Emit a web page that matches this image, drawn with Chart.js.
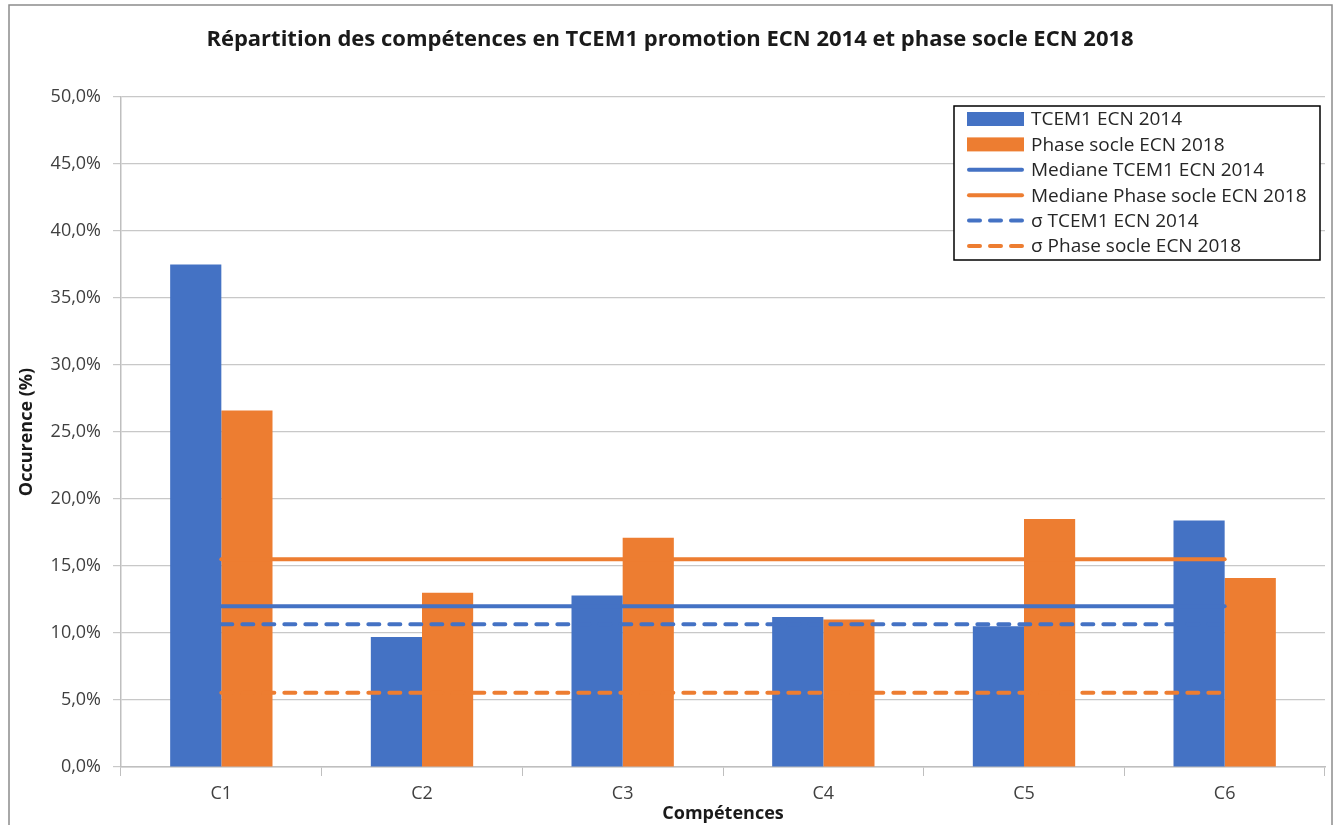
<!DOCTYPE html>
<html>
<head>
<meta charset="utf-8">
<script src="https://cdn.jsdelivr.net/npm/chart.js@4/dist/chart.umd.min.js"></script>
<style>
  html, body { margin: 0; padding: 0; background: #fff; }
  #wrap { width: 1340px; height: 825px; position: relative; }
</style>
</head>
<body>
<div id="wrap"><canvas id="chart" width="1340" height="825"></canvas></div>
<script>
"use strict";

const CATEGORIES = ["C1", "C2", "C3", "C4", "C5", "C6"];
const TCEM1_2014 = [37.5, 9.7, 12.8, 11.2, 10.5, 18.4];
const SOCLE_2018 = [26.6, 13.0, 17.1, 11.0, 18.5, 14.1];
const MEDIAN_TCEM1 = [12.0, 12.0, 12.0, 12.0, 12.0, 12.0];
const MEDIAN_SOCLE = [15.5, 15.5, 15.5, 15.5, 15.5, 15.5];
const SIGMA_TCEM1 = [10.65, 10.65, 10.65, 10.65, 10.65, 10.65];
const SIGMA_SOCLE = [5.55, 5.55, 5.55, 5.55, 5.55, 5.55];
const Y_TICKS = [0, 5, 10, 15, 20, 25, 30, 35, 40, 45, 50];

const BLUE = "#4472C4";
const ORANGE = "#ED7D31";
const FONT = "'Open Sans', 'Noto Sans', sans-serif";

// frame, title and boxed legend drawn on the canvas
const decorPlugin = {
  id: "decor",
  afterDraw(chart) {
    const ctx = chart.ctx;
    ctx.save();
    ctx.strokeStyle = "#8c8c8c";
    ctx.lineWidth = 1.5;
    ctx.strokeRect(9, 5, 1323, 840);

    ctx.fillStyle = "#1a1a1a";
    ctx.font = "bold 22px " + FONT;
    ctx.textAlign = "center";
    ctx.textBaseline = "middle";
    ctx.fillText("Répartition des compétences en TCEM1 promotion ECN 2014 et phase socle ECN 2018", 670, 40);

    // legend box
    const bx = 954, by = 106, bw = 366, bh = 154;
    ctx.fillStyle = "#fff";
    ctx.fillRect(bx, by, bw, bh);
    ctx.strokeStyle = "#000";
    ctx.lineWidth = 1.5;
    ctx.strokeRect(bx, by, bw, bh);

    ctx.font = "19px " + FONT;
    ctx.textAlign = "left";
    chart.data.datasets.forEach((ds, i) => {
      const y = 119 + i * 25.4;
      if (ds.type === "line") {
        ctx.strokeStyle = ds.borderColor;
        ctx.lineWidth = 4;
        ctx.lineCap = "round";
        ctx.setLineDash(ds.borderDash || []);
        ctx.beginPath();
        ctx.moveTo(969, y);
        ctx.lineTo(1022, y);
        ctx.stroke();
        ctx.setLineDash([]);
      } else {
        ctx.fillStyle = ds.backgroundColor;
        ctx.fillRect(967, y - 7, 57, 14);
      }
      ctx.fillStyle = "#262626";
      ctx.fillText(ds.label, 1031, y + 1);
    });
    ctx.restore();
  },
};

function fmt(v) {
  return v.toFixed(1).replace(".", ",") + "%";
}

const lineBase = {
  type: "line",
  pointRadius: 0,
  pointHoverRadius: 0,
  borderWidth: 4,
  borderCapStyle: "round",
  fill: false,
  order: 1,
};

new Chart(document.getElementById("chart"), {
  type: "bar",
  data: {
    labels: CATEGORIES,
    datasets: [
      { label: "TCEM1 ECN 2014", data: TCEM1_2014, backgroundColor: BLUE, order: 2 },
      { label: "Phase socle ECN 2018", data: SOCLE_2018, backgroundColor: ORANGE, order: 2 },
      Object.assign({}, lineBase, { label: "Mediane TCEM1 ECN 2014", data: MEDIAN_TCEM1, borderColor: BLUE }),
      Object.assign({}, lineBase, { label: "Mediane Phase socle ECN 2018", data: MEDIAN_SOCLE, borderColor: ORANGE }),
      Object.assign({}, lineBase, { label: "σ TCEM1 ECN 2014", data: SIGMA_TCEM1, borderColor: BLUE, borderDash: [11, 10] }),
      Object.assign({}, lineBase, { label: "σ Phase socle ECN 2018", data: SIGMA_SOCLE, borderColor: ORANGE, borderDash: [11, 10] }),
    ],
  },
  options: {
    responsive: false,
    animation: false,
    datasets: { bar: { barPercentage: 1.0, categoryPercentage: 0.51 } },
    layout: { padding: { top: 97, right: 15, bottom: 0, left: 10 } },
    plugins: {
      legend: { display: false },
      title: { display: false },
      tooltip: { enabled: false },
    },
    scales: {
      x: {
        offset: true,
        grid: { offset: true, drawOnChartArea: false, drawTicks: true, tickLength: 9, color: "#bfbfbf" },
        border: { color: "#bfbfbf", width: 1.5 },
        ticks: { color: "#404040", font: { family: FONT, size: 18 }, padding: 7 },
        title: {
          display: true, text: "Compétences", color: "#1a1a1a",
          font: { family: FONT, size: 18, weight: "bold" }, padding: { top: 0, bottom: 0 },
        },
        afterFit(scale) { scale.height = 58; },
      },
      y: {
        min: 0,
        max: 50,
        afterBuildTicks(scale) { scale.ticks = Y_TICKS.map((v) => ({ value: v })); },
        grid: { color: "#c8c8c8", tickLength: 8, lineWidth: 1.2 },
        border: { color: "#bfbfbf", width: 1.5 },
        ticks: { color: "#404040", font: { family: FONT, size: 18 }, padding: 12, callback: (v) => fmt(v) },
        title: {
          display: true, text: "Occurence (%)", color: "#1a1a1a",
          font: { family: FONT, size: 18, weight: "bold" }, padding: { top: 6, bottom: 0 },
        },
        afterFit(scale) { scale.width = 111; },
      },
    },
  },
  plugins: [decorPlugin],
});
</script>
</body>
</html>
